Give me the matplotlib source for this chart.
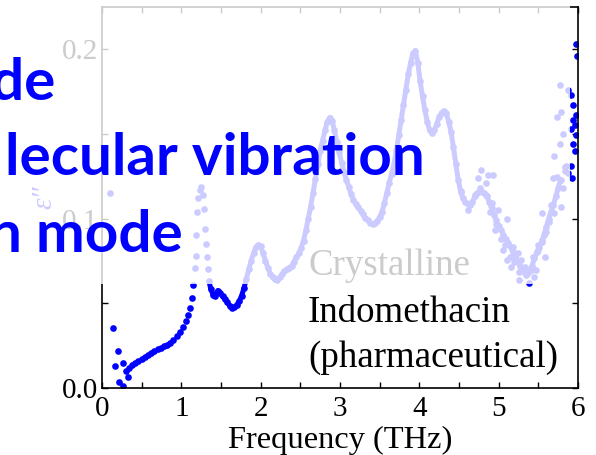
import matplotlib
matplotlib.use("Agg")
import matplotlib.pyplot as plt
from matplotlib.patches import Rectangle

# imaginary permittivity of crystalline indomethacin, main trace
freq = [0.34, 0.38, 0.42, 0.46, 0.50, 0.54, 0.58, 0.62, 0.66, 0.70,
        0.74, 0.78, 0.82, 0.86, 0.90, 0.94, 0.98, 1.02, 1.06, 1.09,
        1.11, 1.13, 1.15, 1.17, 1.18, 1.19, 1.20, 1.21, 1.23, 1.25,
        1.27, 1.285, 1.30, 1.31, 1.32, 1.335, 1.35, 1.37, 1.40, 1.43,
        1.46, 1.49, 1.52, 1.55, 1.58, 1.61, 1.64, 1.67, 1.70, 1.73,
        1.76, 1.79, 1.82, 1.85, 1.88, 1.91, 1.94, 1.97, 2.00, 2.03,
        2.06, 2.09, 2.12, 2.15, 2.18, 2.21, 2.24, 2.27, 2.30, 2.33,
        2.36, 2.39, 2.42, 2.45, 2.48, 2.51, 2.54, 2.57, 2.60, 2.63,
        2.66, 2.69, 2.72, 2.75, 2.78, 2.81, 2.84, 2.87, 2.90, 2.93,
        2.96, 2.99, 3.02, 3.05, 3.08, 3.11, 3.14, 3.17, 3.20, 3.23,
        3.26, 3.29, 3.32, 3.35, 3.38, 3.41, 3.44, 3.47, 3.50, 3.53,
        3.56, 3.59, 3.62, 3.65, 3.68, 3.71, 3.74, 3.77, 3.80, 3.83,
        3.86, 3.89, 3.92, 3.95, 3.98, 4.01, 4.04, 4.07, 4.10, 4.13,
        4.16, 4.19, 4.22, 4.25, 4.28, 4.31, 4.34, 4.37, 4.40, 4.43,
        4.46, 4.49, 4.52, 4.55, 4.58, 4.61, 4.64, 4.67, 4.70, 4.73,
        4.76, 4.79, 4.82, 4.85, 4.88, 4.91, 4.94, 4.97, 5.00, 5.03,
        5.06, 5.09, 5.12, 5.15, 5.18, 5.21, 5.24, 5.27, 5.30, 5.33,
        5.36, 5.39, 5.42, 5.45, 5.48, 5.51, 5.54, 5.57, 5.60, 5.63,
        5.66, 5.69, 5.72, 5.75, 5.78]
eps_im = [0.0120, 0.0135, 0.0148, 0.0158, 0.0170, 0.0182, 0.0196, 0.0208, 0.0220, 0.0230,
          0.0238, 0.0246, 0.0256, 0.0268, 0.0285, 0.0305, 0.0331, 0.0360, 0.0395, 0.0430,
          0.0470, 0.0530, 0.0610, 0.0710, 0.0776, 0.0900, 0.1040, 0.1120, 0.1170, 0.1185,
          0.1140, 0.1057, 0.0940, 0.0850, 0.0770, 0.0700, 0.0630, 0.0585, 0.0550, 0.0545,
          0.0575, 0.0560, 0.0540, 0.0525, 0.0505, 0.0485, 0.0470, 0.0475, 0.0492, 0.0512,
          0.0545, 0.0590, 0.0645, 0.0700, 0.0750, 0.0795, 0.0830, 0.0845, 0.0835, 0.0795,
          0.0750, 0.0710, 0.0675, 0.0652, 0.0642, 0.0640, 0.0652, 0.0672, 0.0690, 0.0700,
          0.0708, 0.0722, 0.0745, 0.0770, 0.0795, 0.0825, 0.0870, 0.0930, 0.1000, 0.1070,
          0.1150, 0.1235, 0.1320, 0.1400, 0.1460, 0.1520, 0.1570, 0.1596, 0.1575, 0.1520,
          0.1450, 0.1390, 0.1330, 0.1275, 0.1230, 0.1185, 0.1145, 0.1110, 0.1085, 0.1065,
          0.1045, 0.1025, 0.1005, 0.0990, 0.0975, 0.0968, 0.0972, 0.0985, 0.1010, 0.1040,
          0.1090, 0.1150, 0.1210, 0.1265, 0.1320, 0.1400, 0.1490, 0.1580, 0.1670, 0.1760,
          0.1850, 0.1920, 0.1975, 0.1990, 0.1920, 0.1810, 0.1720, 0.1640, 0.1570, 0.1520,
          0.1505, 0.1520, 0.1560, 0.1600, 0.1625, 0.1635, 0.1620, 0.1570, 0.1510, 0.1420,
          0.1320, 0.1230, 0.1160, 0.1120, 0.1095, 0.1085, 0.1080, 0.1100, 0.1130, 0.1150,
          0.1160, 0.1155, 0.1150, 0.1130, 0.1100, 0.1060, 0.1020, 0.0990, 0.0955, 0.0930,
          0.0905, 0.0880, 0.0855, 0.0830, 0.0805, 0.0775, 0.0745, 0.0720, 0.0695, 0.0680,
          0.0675, 0.0690, 0.0720, 0.0765, 0.0800, 0.0830, 0.0860, 0.0900, 0.0950, 0.1000,
          0.1040, 0.1080, 0.1130, 0.1180, 0.1230]

# scattered points: low-frequency edge and the noisy high-frequency end
freq_noise = [0.10, 0.142, 0.164, 0.206, 0.218, 0.26, 0.27, 0.30, 0.33,
              4.78, 4.87, 4.93, 4.74, 4.84, 4.76, 4.70, 4.84, 4.61, 4.53,
              4.91, 4.89, 4.99, 5.10, 4.97, 4.95, 5.03, 5.08, 5.18, 5.06,
              5.24, 5.14, 5.10, 5.19, 5.28, 5.16, 5.33, 5.26, 5.41, 5.35,
              5.47, 5.45, 5.26, 5.38, 5.43, 5.49, 5.58, 5.54, 5.60, 5.49,
              5.54, 5.66, 5.63, 5.79, 5.70, 5.68, 5.74, 5.83, 5.81, 5.87,
              5.70, 5.73, 5.77, 5.77, 5.79, 5.81, 5.84, 5.85, 5.87,
              5.915, 5.94, 5.94, 5.915, 5.96, 5.94, 5.96, 5.915, 5.93, 5.98,
              5.99, 5.98, 5.97]
eps_noise = [0.115, 0.0355, 0.013, 0.0218, 0.0037, 0.0149, 0.001, 0.0102, 0.0067,
             0.1286, 0.1257, 0.1257, 0.1237, 0.1207, 0.1178, 0.1139, 0.1139, 0.105, 0.1158,
             0.109, 0.104, 0.105, 0.0995, 0.097, 0.093, 0.088, 0.0844, 0.0834, 0.0814,
             0.0795, 0.0775, 0.0755, 0.0745, 0.0755, 0.0716, 0.0716, 0.0687, 0.0696, 0.0667,
             0.0696, 0.0657, 0.0637, 0.0617, 0.0775, 0.0814, 0.0775, 0.0873, 0.0922, 0.0844,
             0.103, 0.108, 0.098, 0.107, 0.103, 0.1237, 0.1247, 0.1306, 0.1178, 0.1266,
             0.137, 0.160, 0.144, 0.179, 0.1626, 0.150, 0.128, 0.131, 0.176,
             0.173, 0.167, 0.158, 0.153, 0.155, 0.144, 0.140, 0.131, 0.124, 0.203,
             0.196, 0.161, 0.149]

blue = "#0000ff"
serif = ["Liberation Serif", "DejaVu Serif"]

fig = plt.figure(figsize=(5.96, 4.55), dpi=100)
ax = fig.add_axes([102 / 596, 67 / 455, 476 / 596, 381 / 455])

# dense part of the trace reads as a solid band from 1.35 THz on
ax.plot(freq[36:], eps_im[36:], "-", color=blue, lw=3.6,
        solid_capstyle="round", solid_joinstyle="round")
ax.plot(freq, eps_im, "o", color=blue, ms=4.8, mew=0)
ax.plot(freq_noise, eps_noise, "o", color=blue, ms=4.8, mew=0)

ax.set_xlim(0, 6)
ax.set_ylim(0, 0.2248)
ax.set_xticks([0, 0.5, 1, 1.5, 2, 2.5, 3, 3.5, 4, 4.5, 5, 5.5, 6])
ax.set_xticklabels(["0", "", "1", "", "2", "", "3", "", "4", "", "5", "", "6"],
                   family=serif, fontsize=21)
ax.set_yticks([0, 0.05, 0.1, 0.15, 0.2])
ax.set_yticklabels(["0.0", "", "0.1", "", "0.2"], family=serif, fontsize=21)
ax.tick_params(direction="in", top=True, right=True, length=4.5, width=1)
ax.tick_params(axis="x", pad=6)
ax.tick_params(axis="y", pad=3)
for sp in ax.spines.values():
    sp.set_linewidth(1.2)

ax.set_xlabel("Frequency (THz)", family=serif, fontsize=23.4)
ax.xaxis.set_label_coords(0.5, -0.10)
ax.set_ylabel("\u03b5\u2033", family=serif, style="italic", fontsize=21,
              color=blue)
ax.yaxis.set_label_coords(-0.093, 0.5)

ax.text(0.4328, 0.2966, "Crystalline", transform=ax.transAxes,
        family=serif, fontsize=26.6, va="baseline")
ax.text(0.4328, 0.1732, "Indomethacin", transform=ax.transAxes,
        family=serif, fontsize=26.6, va="baseline")
ax.text(0.4328, 0.0551, "(pharmaceutical)", transform=ax.transAxes,
        family=serif, fontsize=26.6, va="baseline")

# translucent white veil over the upper part of the plot
fig.add_artist(Rectangle((0, 171 / 455), 570 / 596, 284 / 455,
                         transform=fig.transFigure, facecolor="white",
                         edgecolor="none", alpha=0.8, zorder=2))

# slide heading lines, partly outside the frame
for txt, xr, yb in [("de", 55, 100),
                    ("lecular vibration", 425, 175),
                    ("n mode", 183, 252)]:
    fig.text(xr / 596, 1 - yb / 455, txt, ha="right", va="baseline",
             family=["Lato", "DejaVu Sans"], fontweight="bold",
             fontsize=42, color=blue, zorder=3)

fig.savefig("out.png", dpi=100)
